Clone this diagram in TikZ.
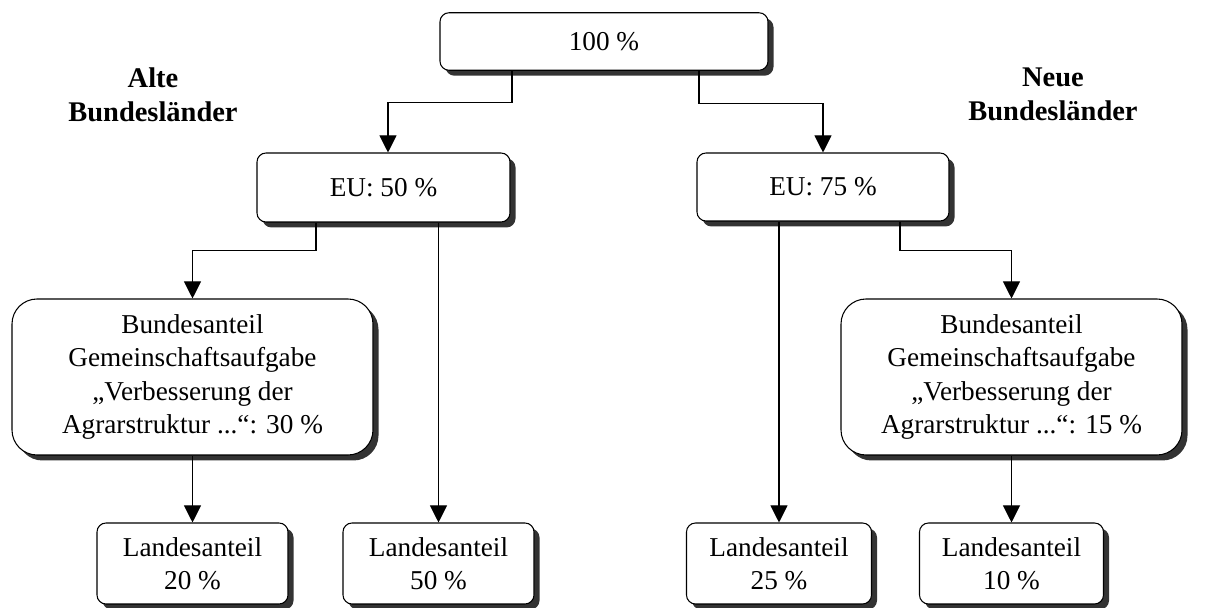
\documentclass[tikz,border=0pt]{standalone}
\usepackage{fontspec}
\setmainfont{Liberation Serif}
\usepackage{tikz}
\usetikzlibrary{arrows.meta,positioning,shadows}
\definecolor{Ink}{HTML}{000000}
\definecolor{Shade}{HTML}{333333}

\begin{document}
\begin{tikzpicture}[
  share/.style={rectangle,rounded corners=0.18cm,draw=Ink,fill=white,line width=0.6pt,inner sep=0pt,align=center,font=\fontsize{15.5}{18.8}\selectfont,drop shadow={shadow xshift=0.11cm,shadow yshift=-0.11cm,fill=Shade,opacity=1}},
  bigshare/.style={share,rounded corners=0.5cm},
  region/.style={align=center,font=\fontsize{16.2}{19.4}\selectfont\bfseries},
  arrow/.style={-{Triangle[length=0.34cm,width=0.34cm]},line width=0.6pt,draw=Ink}
]
\useasboundingbox (0,0) rectangle (24.18,-12.16);
\node[share,minimum width=6.56cm,minimum height=1.15cm] (full) at (12.08,-0.83) {100 \%};
\node[share,minimum width=5.06cm,minimum height=1.38cm] (eualt) at (7.67,-3.75) {EU: 50 \%};
\node[share,minimum width=5.04cm,minimum height=1.36cm] (euneu) at (16.46,-3.74) {EU: 75 \%};
\node[bigshare,minimum width=7.22cm,minimum height=3.12cm] (bundalt) at (3.85,-7.54) {Bundesanteil\\Gemeinschaftsaufgabe\\„Verbesserung der\\Agrarstruktur ...“: 30 \%};
\node[bigshare,minimum width=6.82cm,minimum height=3.12cm] (bundneu) at (20.23,-7.54) {Bundesanteil\\Gemeinschaftsaufgabe\\„Verbesserung der\\Agrarstruktur ...“: 15 \%};
\node[share,minimum width=3.82cm,minimum height=1.62cm] (land20) at (3.85,-11.27) {Landesanteil\\20 \%};
\node[share,minimum width=3.82cm,minimum height=1.62cm] (land50) at (8.77,-11.27) {Landesanteil\\50 \%};
\node[share,minimum width=3.7cm,minimum height=1.62cm] (land25) at (15.58,-11.27) {Landesanteil\\25 \%};
\node[share,minimum width=3.68cm,minimum height=1.62cm] (land10) at (20.23,-11.27) {Landesanteil\\10 \%};
\node[region] (alte) at (3.06,-1.9) {Alte\\Bundesländer};
\node[region] (neue) at (21.06,-1.88) {Neue\\Bundesländer};
\draw[arrow] ([xshift=-1.84cm]full.south) -- ++(0,-0.635) -| ([xshift=0.09cm]eualt.north);
\draw[arrow] ([xshift=1.9cm]full.south) -- ++(0,-0.655) -| (euneu.north);
\draw[arrow] ([xshift=-1.35cm]eualt.south) -- ++(0,-0.56) -| (bundalt.north);
\draw[arrow] (land50.north |- eualt.south) -- (land50.north);
\draw[arrow] (land25.north |- euneu.south) -- (land25.north);
\draw[arrow] ([xshift=1.54cm]euneu.south) -- ++(0,-0.58) -| (bundneu.north);
\draw[arrow] (bundalt) -- (land20);
\draw[arrow] (bundneu) -- (land10);
\end{tikzpicture}
\end{document}
